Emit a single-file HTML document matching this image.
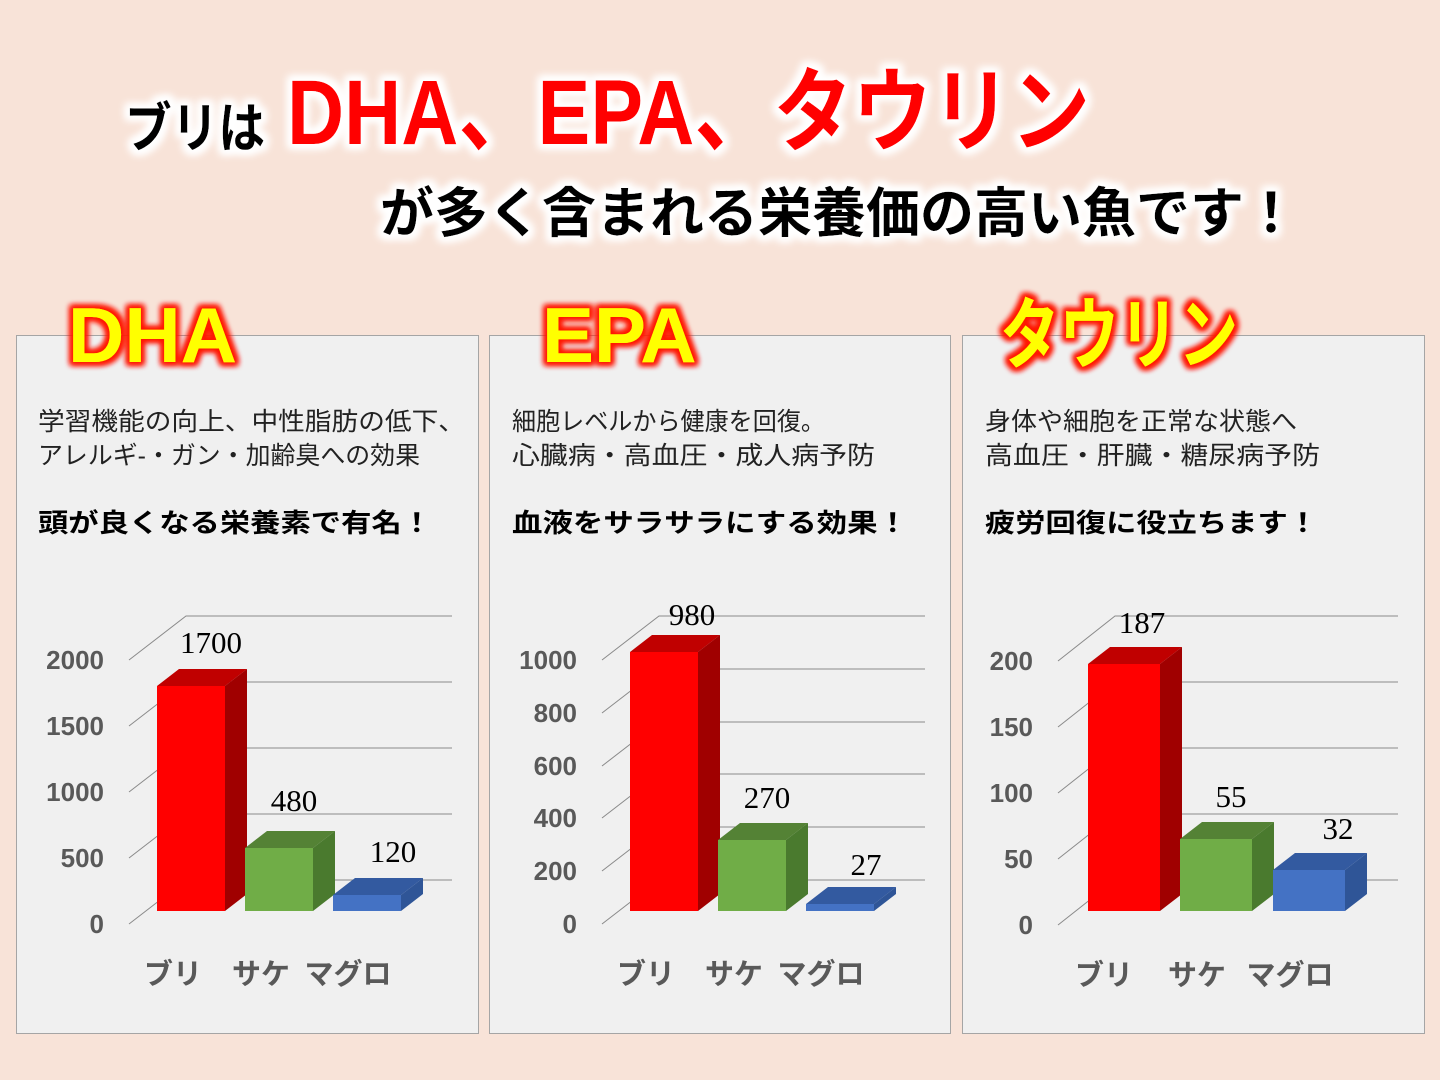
<!DOCTYPE html>
<html><head><meta charset="utf-8"><style>
html,body{margin:0;padding:0;width:1440px;height:1080px;overflow:hidden;background:#f8e3d8;}
svg{display:block}
</style></head><body>
<svg width="1440" height="1080" xmlns="http://www.w3.org/2000/svg" font-family="'Liberation Sans','Noto Sans CJK JP',sans-serif">
<defs>
<filter id="wg" x="-20%" y="-40%" width="140%" height="180%"><feMorphology in="SourceAlpha" operator="dilate" radius="4" result="d"/><feGaussianBlur in="d" stdDeviation="4" result="b"/><feFlood flood-color="#fff"/><feComposite in2="b" operator="in" result="g"/><feMerge><feMergeNode in="g"/><feMergeNode in="g"/><feMergeNode in="SourceGraphic"/></feMerge></filter>
<filter id="rg" x="-20%" y="-40%" width="140%" height="180%"><feMorphology in="SourceAlpha" operator="dilate" radius="3" result="d"/><feGaussianBlur in="d" stdDeviation="3" result="b"/><feFlood flood-color="#ff1a00"/><feComposite in2="b" operator="in" result="g"/><feMerge><feMergeNode in="g"/><feMergeNode in="g"/><feMergeNode in="SourceGraphic"/></feMerge></filter>
</defs>
<g filter="url(#wg)">
<text x="125" y="147" font-size="54" font-weight="bold" fill="#000" textLength="140" lengthAdjust="spacingAndGlyphs">ブリは</text>
<text x="287" y="144" font-size="92" font-weight="bold" fill="#f00" textLength="803" lengthAdjust="spacingAndGlyphs">DHA、EPA、タウリン</text>
<text x="380" y="232" font-size="54" font-weight="bold" fill="#000">が多く含まれる栄養価の高い魚です！</text>
</g>
<rect x="16.5" y="335.5" width="462" height="698" fill="#f0f0f0" stroke="#a5a5a5"/>
<rect x="489.5" y="335.5" width="461" height="698" fill="#f0f0f0" stroke="#a5a5a5"/>
<rect x="962.5" y="335.5" width="462" height="698" fill="#f0f0f0" stroke="#a5a5a5"/>
<g filter="url(#rg)" font-size="78" font-weight="bold" fill="#ffff00">
<text x="68" y="362">DHA</text>
<text x="542" y="362">EPA</text>
<text x="1000" y="362" textLength="238" lengthAdjust="spacingAndGlyphs">タウリン</text>
</g>
<g font-size="25" fill="#222" lengthAdjust="spacingAndGlyphs">
<text x="38" y="430" textLength="427" lengthAdjust="spacingAndGlyphs">学習機能の向上、中性脂肪の低下、</text>
<text x="38" y="464" textLength="382" lengthAdjust="spacingAndGlyphs">アレルギ-・ガン・加齢臭への効果</text>
<text x="38" y="532" font-weight="bold" font-size="26" fill="#000" textLength="394" lengthAdjust="spacingAndGlyphs">頭が良くなる栄養素で有名！</text>
<text x="512" y="430" textLength="313" lengthAdjust="spacingAndGlyphs">細胞レベルから健康を回復。</text>
<text x="512" y="464" textLength="363" lengthAdjust="spacingAndGlyphs">心臓病・高血圧・成人病予防</text>
<text x="512" y="532" font-weight="bold" font-size="26" fill="#000" textLength="396" lengthAdjust="spacingAndGlyphs">血液をサラサラにする効果！</text>
<text x="985" y="430" textLength="312" lengthAdjust="spacingAndGlyphs">身体や細胞を正常な状態へ</text>
<text x="985" y="464" textLength="335" lengthAdjust="spacingAndGlyphs">高血圧・肝臓・糖尿病予防</text>
<text x="985" y="532" font-weight="bold" font-size="26" fill="#000" textLength="333" lengthAdjust="spacingAndGlyphs">疲労回復に役立ちます！</text>
</g>
<g stroke="#8a8a8a" stroke-width="1" fill="none">
<path d="M129 660L186 616H452M129 726L186 682H452M129 792L186 748H452M129 858L186 814H452M129 924L186 880H452"/>
<path d="M602 660L659 616H925M602 713L659 669H925M602 766L659 722H925M602 818L659 774H925M602 871L659 827H925M602 924L659 880H925"/>
<path d="M1058 661L1115 616H1398M1058 727L1115 682H1398M1058 793L1115 748H1398M1058 859L1115 814H1398M1058 925L1115 880H1398"/>
</g>
<g font-size="26" font-weight="bold" fill="#595959" text-anchor="end">
<text x="104" y="669">2000</text><text x="104" y="735">1500</text><text x="104" y="801">1000</text><text x="104" y="867">500</text><text x="104" y="933">0</text>
<text x="577" y="669">1000</text><text x="577" y="722">800</text><text x="577" y="775">600</text><text x="577" y="827">400</text><text x="577" y="880">200</text><text x="577" y="933">0</text>
<text x="1033" y="670">200</text><text x="1033" y="736">150</text><text x="1033" y="802">100</text><text x="1033" y="868">50</text><text x="1033" y="934">0</text>
</g>
<g>
<polygon points="157,686 179,669 247,669 225,686" fill="#c00000"/><polygon points="225,686 247,669 247,894 225,911" fill="#a00000"/><rect x="157" y="686" width="68" height="225" fill="#f00"/>
<polygon points="245,848 267,831 335,831 313,848" fill="#548235"/><polygon points="313,848 335,831 335,894 313,911" fill="#4a7a2e"/><rect x="245" y="848" width="68" height="63" fill="#70ad47"/>
<polygon points="333,895 355,878 423,878 401,895" fill="#335aa0"/><polygon points="401,895 423,878 423,894 401,911" fill="#2f5597"/><rect x="333" y="895" width="68" height="16" fill="#4472c4"/>
</g>
<g>
<polygon points="630,652 652,635 720,635 698,652" fill="#c00000"/><polygon points="698,652 720,635 720,894 698,911" fill="#a00000"/><rect x="630" y="652" width="68" height="259" fill="#f00"/>
<polygon points="718,840 740,823 808,823 786,840" fill="#548235"/><polygon points="786,840 808,823 808,894 786,911" fill="#4a7a2e"/><rect x="718" y="840" width="68" height="71" fill="#70ad47"/>
<polygon points="806,904 828,887 896,887 874,904" fill="#335aa0"/><polygon points="874,904 896,887 896,894 874,911" fill="#2f5597"/><rect x="806" y="904" width="68" height="7" fill="#4472c4"/>
</g>
<g>
<polygon points="1088,664 1110,647 1182,647 1160,664" fill="#c00000"/><polygon points="1160,664 1182,647 1182,894 1160,911" fill="#a00000"/><rect x="1088" y="664" width="72" height="247" fill="#f00"/>
<polygon points="1180,839 1202,822 1274,822 1252,839" fill="#548235"/><polygon points="1252,839 1274,822 1274,894 1252,911" fill="#4a7a2e"/><rect x="1180" y="839" width="72" height="72" fill="#70ad47"/>
<polygon points="1273,870 1295,853 1367,853 1345,870" fill="#335aa0"/><polygon points="1345,870 1367,853 1367,894 1345,911" fill="#2f5597"/><rect x="1273" y="870" width="72" height="41" fill="#4472c4"/>
</g>
<g font-family="'Liberation Serif',serif" font-size="31" fill="#000" text-anchor="middle">
<text x="211" y="653">1700</text><text x="294" y="811">480</text><text x="393" y="862">120</text>
<text x="692" y="625">980</text><text x="767" y="808">270</text><text x="866" y="875">27</text>
<text x="1142" y="633">187</text><text x="1231" y="807">55</text><text x="1338" y="839">32</text>
</g>
<g font-size="29" font-weight="bold" fill="#595959" text-anchor="middle">
<text x="173" y="984">ブリ</text><text x="261" y="984">サケ</text><text x="348" y="984">マグロ</text>
<text x="646" y="984">ブリ</text><text x="734" y="984">サケ</text><text x="821" y="984">マグロ</text>
<text x="1104" y="985">ブリ</text><text x="1197" y="985">サケ</text><text x="1290" y="985">マグロ</text>
</g>
</svg>
</body></html>
